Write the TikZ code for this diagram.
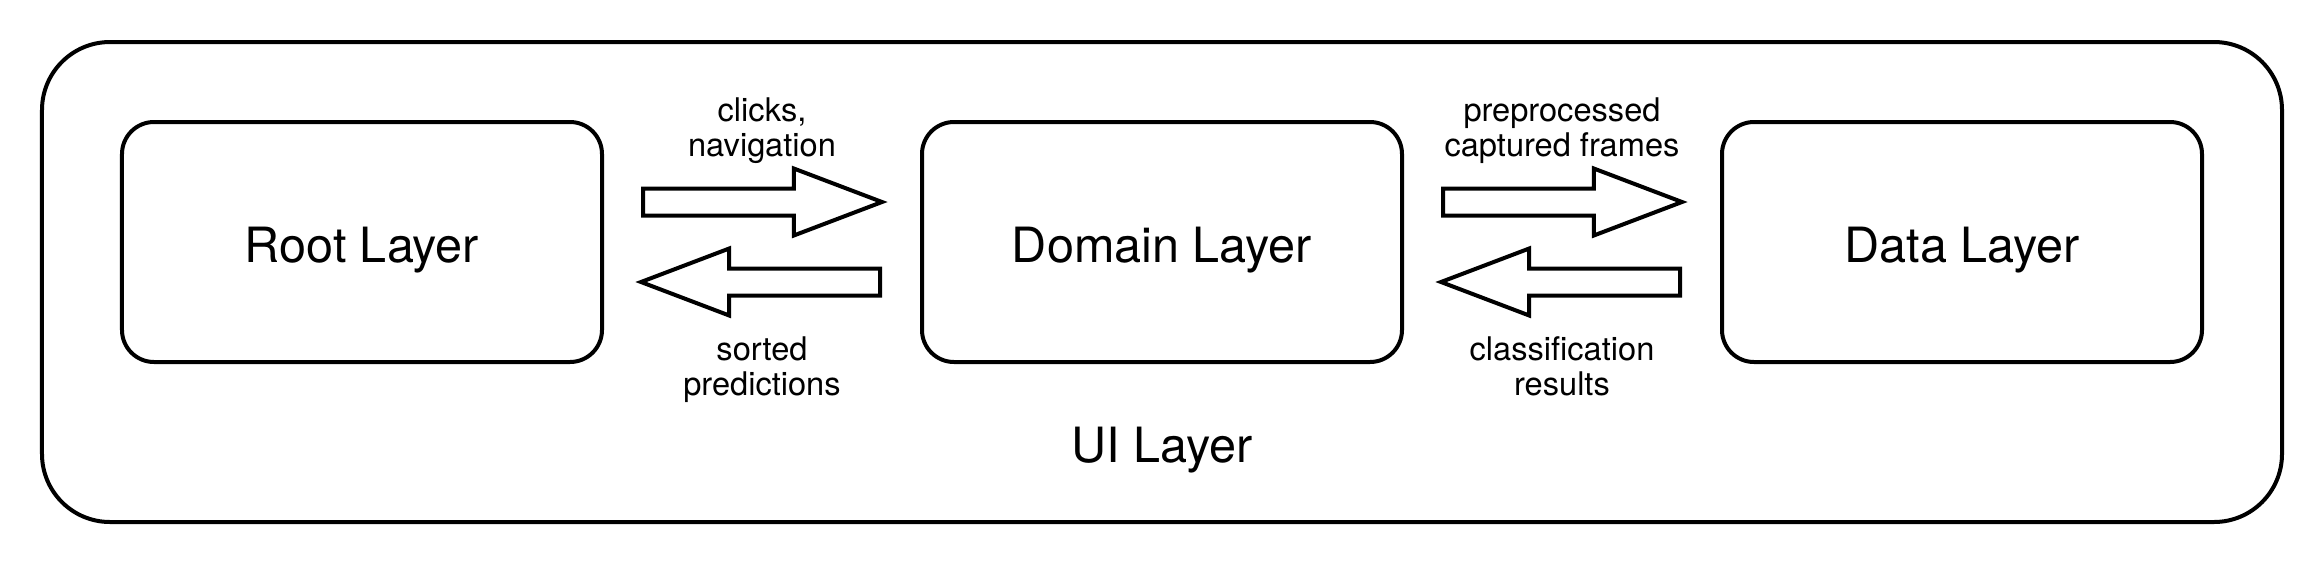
\documentclass[tikz,border=0pt]{standalone}
\usepackage{fontspec}
\setmainfont{TeX Gyre Heros}
\usetikzlibrary{positioning, calc, shapes.arrows}
\tikzstyle{layer} = [rectangle, rounded corners=16pt, minimum width=240pt, minimum height=120pt, text centered, text height=20pt, text depth=0pt, draw=black, line width=2pt, outer sep=0pt, font=\fontsize{24.3}{28}\selectfont]
\tikzstyle{container} = [rectangle, rounded corners=34pt, minimum width=1120pt, minimum height=240pt, draw=black, line width=2pt, outer sep=0pt]
\tikzstyle{fatarrow} = [single arrow, draw=black, line width=2pt, minimum height=119.5pt, inner sep=5.75pt, outer sep=0pt, single arrow head extend=10pt, single arrow tip angle=41.6, anchor=tail]
\tikzstyle{lbl} = [align=center, inner sep=0pt, anchor=north, font=\fontsize{16.3}{17.6}\selectfont]
\tikzstyle{biglbl} = [inner sep=0pt, anchor=base, font=\fontsize{24.3}{28}\selectfont]

\begin{document}
\begin{tikzpicture}[node distance=160pt]
\useasboundingbox (-181pt,-161pt) rectangle (981pt,121pt);
\node (uilayer) [container] at (400pt,-20pt) {};
\node (root) [layer] at (0,0) {Root Layer};
\node (domain) [layer, right=of root] {Domain Layer};
\node (data) [layer, right=of domain] {Data Layer};

\node (uilbl) [biglbl, yshift=30pt] at (uilayer.south) {UI Layer};

% arrows between the layers
\node (clicksarrow) [fatarrow, right=20.5pt of root.east, yshift=20pt, anchor=tail] {};
\node (sortedarrow) [fatarrow, shape border rotate=180, left=21pt of domain.west, yshift=-20pt, anchor=tail] {};
\node (framesarrow) [fatarrow, right=20.5pt of domain.east, yshift=20pt, anchor=tail] {};
\node (resultsarrow) [fatarrow, shape border rotate=180, left=21pt of data.west, yshift=-20pt, anchor=tail] {};

\node (clicks) [lbl, yshift=72.5pt] at ($(root.east)!0.5!(domain.west)$) {clicks,\\navigation};
\node (sorted) [lbl, yshift=-47pt] at ($(root.east)!0.5!(domain.west)$) {sorted\\predictions};
\node (frames) [lbl, yshift=72.5pt] at ($(domain.east)!0.5!(data.west)$) {preprocessed\\captured frames};
\node (results) [lbl, yshift=-47pt] at ($(domain.east)!0.5!(data.west)$) {classification\\results};

\end{tikzpicture}
\end{document}
